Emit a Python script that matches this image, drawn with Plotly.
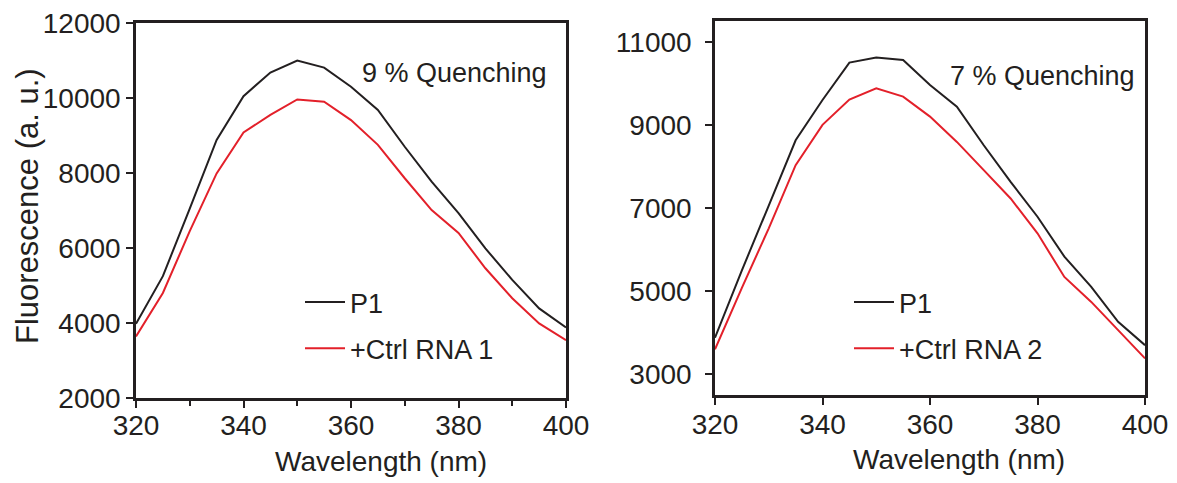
import plotly.graph_objects as go

wavelength = [320, 325, 330, 335, 340, 345, 350, 355, 360, 365, 370, 375, 380, 385, 390, 395, 400]

p1_a = [3980, 5250, 7050, 8880, 10050, 10680, 11000, 10810, 10300, 9680, 8700, 7770, 6930, 5990, 5150, 4390, 3880]
ctrl_a = [3640, 4800, 6450, 7990, 9080, 9550, 9960, 9900, 9410, 8750, 7860, 7010, 6400, 5460, 4660, 3990, 3540]

p1_b = [3880, 5500, 7060, 8630, 9600, 10500, 10620, 10560, 9960, 9440, 8510, 7630, 6790, 5830, 5100, 4260, 3700]
ctrl_b = [3600, 5080, 6510, 8030, 9000, 9610, 9880, 9680, 9200, 8590, 7910, 7230, 6390, 5340, 4740, 4060, 3380]

names_a = ["P1", "+Ctrl RNA 1"]
names_b = ["P1", "+Ctrl RNA 2"]
titles = ["9 % Quenching", "7 % Quenching"]

INK = "#231f20"
RED = "#e3202a"
FONT = "Liberation Sans, Arial, sans-serif"

# the page body adds an 8 px offset; work in reference pixel coordinates
OFF = 8
W, H = 1177 - OFF, 483 - OFF


def px(x):
    return (x - OFF) / W


def py(y):
    return 1 - (y - OFF) / H


fig = go.Figure()

fig.add_trace(go.Scatter(x=wavelength, y=p1_a, mode="lines", name=names_a[0],
                         line=dict(color=INK, width=2), xaxis="x", yaxis="y",
                         legend="legend", legendgroup="a1"))
fig.add_trace(go.Scatter(x=wavelength, y=ctrl_a, mode="lines", name=names_a[1],
                         line=dict(color=RED, width=2), xaxis="x", yaxis="y",
                         legend="legend", legendgroup="a2"))
fig.add_trace(go.Scatter(x=wavelength, y=p1_b, mode="lines", name=names_b[0],
                         line=dict(color=INK, width=2), xaxis="x2", yaxis="y2",
                         legend="legend2", legendgroup="b1"))
fig.add_trace(go.Scatter(x=wavelength, y=ctrl_b, mode="lines", name=names_b[1],
                         line=dict(color=RED, width=2), xaxis="x2", yaxis="y2",
                         legend="legend2", legendgroup="b2"))

axis_common = dict(showline=True, linecolor=INK, linewidth=2.5, mirror=True,
                   showgrid=False, zeroline=False, ticks="outside", ticklen=7,
                   tickwidth=2, tickcolor=INK, automargin=False, tickformat="d",
                   ticklabeloverflow="allow",
                   tickfont=dict(family=FONT, size=28, color=INK))

fig.update_layout(
    width=W, height=H,
    margin=dict(l=0, r=0, t=0, b=0, autoexpand=False),
    paper_bgcolor="white", plot_bgcolor="white",
    xaxis=dict(domain=[px(136), px(566)], range=[320, 400], dtick=20, anchor="y",
               minor=dict(dtick=10, ticks="outside", ticklen=5, tickwidth=2, tickcolor=INK),
               ticklabelstandoff=-6, **axis_common),
    yaxis=dict(domain=[py(398), py(23)], range=[2000, 12000], dtick=2000,
               anchor="x", ticklabelstandoff=0, **axis_common),
    xaxis2=dict(domain=[px(715), px(1145)], range=[320, 400], dtick=20, anchor="y2",
                ticklabelstandoff=-4, **axis_common),
    yaxis2=dict(domain=[py(395), py(21)], range=[2500, 11500],
                tickvals=[3000, 5000, 7000, 9000, 11000], anchor="x2",
                ticklabelstandoff=8, **axis_common),
    legend=dict(x=px(300), y=py(278), xanchor="left", yanchor="top",
                bgcolor="rgba(0,0,0,0)", font=dict(family=FONT, size=27, color=INK),
                traceorder="grouped", tracegroupgap=8, itemwidth=40),
    legend2=dict(x=px(849), y=py(278), xanchor="left", yanchor="top",
                 bgcolor="rgba(0,0,0,0)", font=dict(family=FONT, size=27, color=INK),
                 traceorder="grouped", tracegroupgap=8, itemwidth=40),
    showlegend=True,
)

ann_common = dict(xref="paper", yref="paper", showarrow=False,
                  xanchor="center", yanchor="middle")
annotations = [
    dict(text=titles[0], x=px(454), y=py(73), font=dict(family=FONT, size=27, color=INK),
         **ann_common),
    dict(text=titles[1], x=px(1042), y=py(76), font=dict(family=FONT, size=27, color=INK),
         **ann_common),
    dict(text="Wavelength (nm)", x=px(381), y=py(461), font=dict(family=FONT, size=28, color=INK),
         **ann_common),
    dict(text="Wavelength (nm)", x=px(959), y=py(459), font=dict(family=FONT, size=28, color=INK),
         **ann_common),
    dict(text="Fluorescence (a. u.)", x=px(27), y=py(206), textangle=-90,
         font=dict(family=FONT, size=31, color=INK), **ann_common),
]
fig.update_layout(annotations=annotations)

fig.write_html("out.html")
